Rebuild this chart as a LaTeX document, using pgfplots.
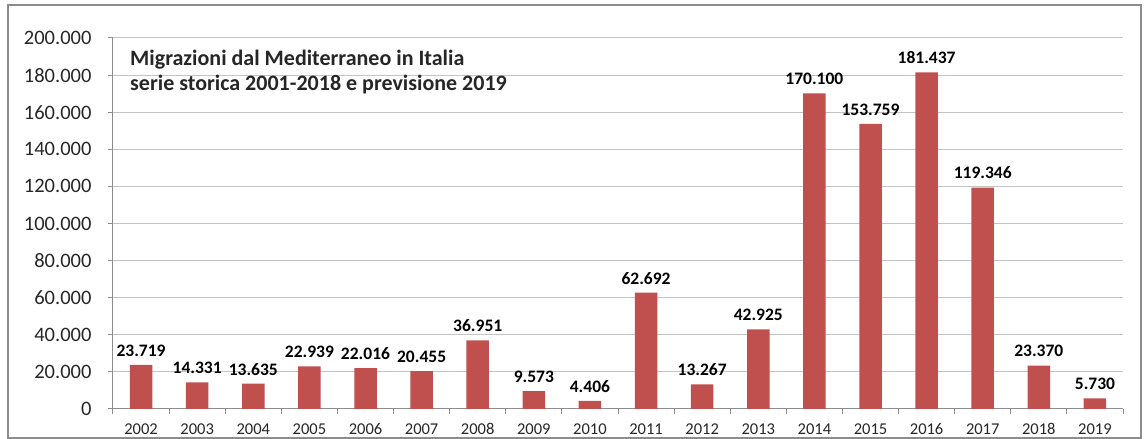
\documentclass[border=0pt]{standalone}
\usepackage{fontspec}
\setmainfont{Carlito}
\usepackage{pgfplots}
\pgfplotsset{compat=1.18}
\definecolor{barred}{HTML}{C0504D}
\definecolor{gridgray}{HTML}{C4C4C4}
\definecolor{axgray}{HTML}{8C8C8C}
\definecolor{txt}{HTML}{262626}
\begin{document}
\begin{tikzpicture}[x=1pt,y=1pt]
\path[use as bounding box] (0,0) rectangle (1144,439);
\draw[axgray, line width=1.3pt] (8,1) rectangle (1141,434);
\begin{axis}[
  at={(113pt,30pt)}, anchor=south west,
  scale only axis, width=1010pt, height=371pt,
  xmin=-0.5, xmax=17.5, ymin=0, ymax=200000,
  ybar, bar width=22.5pt,
  axis lines*=left,
  axis line style={axgray, line width=1pt},
  ytick={0,20000,...,200000},
  scaled y ticks=false,
  ymajorgrids, grid style={gridgray, line width=1pt},
  xtick={0,...,17},
  xticklabels={2002,2003,2004,2005,2006,2007,2008,2009,2010,2011,2012,2013,2014,2015,2016,2017,2018,2019},
  minor xtick={-0.5,0.5,...,17.5},
  major x tick style={draw=none},
  minor x tick style={axgray, line width=1pt},
  y tick style={axgray, line width=1pt},
  tick align=outside,
  major tick length=5pt, minor tick length=5pt,
  /pgf/number format/.cd, fixed, precision=0, 1000 sep={.}, assume math mode=true,
  /pgfplots/.cd,
  yticklabel style={font=\fontsize{20.5}{22}\selectfont, text=txt, xshift=-13pt},
  xticklabel style={font=\fontsize{16.5}{18}\selectfont, text=txt, yshift=-6pt},
  nodes near coords,
  nodes near coords style={font=\fontsize{17.5}{20}\selectfont\bfseries, text=black, anchor=south, yshift=5pt},
]
\addplot[fill=barred, draw=none, bar shift=0pt] coordinates {
(0,23719) (1,14331) (2,13635) (3,22939) (4,22016) (5,20455) (6,36951) (7,9573) (8,4406)
(9,62692) (10,13267) (11,42925) (12,170100) (13,153759) (14,181437) (15,119346) (16,23370) (17,5730)
};
\end{axis}
\node[anchor=base west, font=\fontsize{22}{24}\selectfont\bfseries, text=txt, inner sep=0pt] at (130,373) {Migrazioni dal Mediterraneo in Italia};
\node[anchor=base west, font=\fontsize{22}{24}\selectfont\bfseries, text=txt, inner sep=0pt] at (130,348) {serie storica 2001-2018 e previsione 2019};
\end{tikzpicture}
\end{document}
